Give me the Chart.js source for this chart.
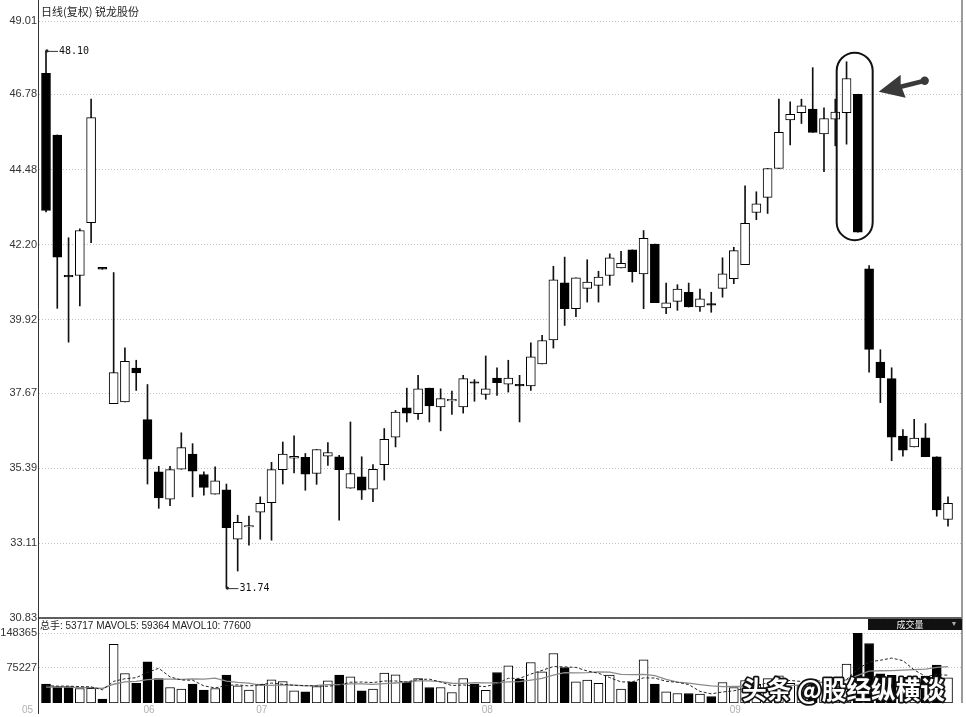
<!DOCTYPE html>
<html><head><meta charset="utf-8">
<script src="https://cdn.jsdelivr.net/npm/chart.js@4.4.1/dist/chart.umd.min.js"></script>
<style>html,body{margin:0;padding:0;background:#fff;}canvas{display:block;}</style>
</head><body>
<canvas id="c" width="966" height="717"></canvas>
<script>
// ---------- data ----------
const titleText = '日线(复权) 锐龙股份';
const volumePanelName = '成交量';
const watermarkText = '头条 @股经纵横谈';
const monthLabels = ['05', '06', '07', '08', '09'];
const monthStart = [0, 9, 19, 39, 61];           // index of first trading day of each month
const priceTicks = [49.01, 46.78, 44.48, 42.20, 39.92, 37.67, 35.39, 33.11, 30.83];
const volumeTicks = [148365, 75227];
const highlightDays = [71, 72];                  // the circled candles

const opens = [47.42,45.54,41.25,41.26,42.87,41.51,37.36,37.41,38.44,36.87,
  35.28,34.45,35.36,35.82,35.20,34.60,34.73,33.23,33.60,34.05,
  34.34,35.35,35.70,35.72,35.23,35.76,35.74,34.78,35.13,34.75,
  35.50,36.34,37.23,37.05,37.83,37.26,37.44,37.26,38.02,37.64,
  38.14,37.95,37.94,37.90,38.57,39.30,41.04,40.25,40.87,40.96,
  41.26,41.49,42.04,41.31,42.22,40.27,40.47,40.75,40.30,40.40,
  40.87,41.16,41.59,43.18,43.64,44.52,46.00,46.22,46.33,45.57,
  46.02,46.22,46.78,41.46,38.62,38.12,36.37,36.04,36.32,35.74,33.83];
const highs = [48.10,45.54,42.41,42.68,46.63,41.51,41.35,39.06,38.68,37.94,
  35.45,35.45,36.47,36.14,35.28,35.43,34.91,33.96,33.93,34.52,
  35.57,36.19,36.38,35.84,35.96,36.17,35.78,36.80,35.74,35.50,
  36.60,37.15,37.83,38.22,37.83,37.81,37.74,38.22,38.09,38.81,
  38.45,38.68,38.22,39.21,39.44,41.54,41.82,41.19,41.74,41.39,
  41.92,42.00,42.04,42.63,42.22,41.03,40.98,41.03,40.85,40.75,
  41.80,42.12,43.99,43.81,44.52,46.63,46.55,46.63,47.59,46.37,
  46.63,47.77,46.78,41.56,39.00,38.45,36.57,36.88,36.75,35.74,34.52];
const lows = [43.20,40.26,39.23,40.33,42.26,41.45,37.36,37.41,37.76,34.91,
  34.17,34.25,35.36,34.52,34.57,34.60,31.74,32.26,33.05,33.23,
  33.20,34.91,35.25,34.72,34.90,35.48,33.81,34.78,34.44,34.37,
  35.03,36.04,36.80,36.88,36.80,36.53,37.03,37.07,37.43,37.49,
  37.61,37.71,36.80,37.76,38.57,39.05,39.74,40.01,40.45,40.45,
  40.96,41.49,41.06,40.25,40.43,40.10,40.20,40.30,40.17,40.14,
  40.60,41.01,41.59,42.96,43.15,44.52,45.24,45.89,45.62,44.42,
  45.21,45.26,42.58,38.32,37.39,35.62,35.76,36.04,35.74,33.93,33.63];
const closes = [43.24,41.82,41.22,42.63,46.07,41.45,38.30,38.65,38.29,35.67,
  34.49,35.35,36.02,35.30,34.81,35.01,33.58,33.74,33.63,34.32,
  35.35,35.82,35.75,35.21,35.96,35.87,35.35,35.23,34.72,35.36,
  36.27,37.10,37.07,37.81,37.29,37.51,37.47,38.12,37.98,37.81,
  38.00,38.14,37.90,38.78,39.28,41.13,40.25,41.19,41.06,41.21,
  41.80,41.63,41.38,42.39,40.43,40.43,40.85,40.30,40.55,40.36,
  41.31,42.02,42.85,43.44,44.52,45.62,46.17,46.43,45.62,46.04,
  46.24,47.26,42.58,39.01,38.15,36.34,35.94,36.31,35.74,34.12,34.32];
const volumes = [40100,35200,35200,30900,31300,8100,125400,62900,42200,87900,
  52300,33100,29500,40100,27300,30900,59300,36600,27300,40100,
  49500,45900,26000,23900,35200,47300,59300,55900,26000,29500,
  63600,60100,45200,52300,33100,33100,22400,52300,40100,27000,
  65000,79300,50900,86400,66500,105600,75700,45200,48700,42200,
  59300,29500,45200,92100,40100,23900,20300,20300,19200,13900,
  43700,33100,48000,40000,52000,58000,42000,38000,50000,44000,
  36000,82800,148365,126900,62000,59000,55000,50000,57000,81000,53717];
const mavol5 = [37000,36000,36000,35000,34500,28100,46200,51700,54000,65300,
  74100,55700,49000,48600,36500,32200,37400,38800,36300,38800,
  42600,39900,37800,37100,36100,35700,38300,44300,44700,43600,
  46900,47000,44900,50100,50900,44800,37200,38600,36200,35000,
  41400,52700,52500,61700,69600,77700,77000,75900,68300,63500,
  54200,45000,45000,53700,53200,46200,44300,39300,24800,19500,
  23500,26000,31600,35700,43400,46200,48000,46000,48000,46400,
  42000,50200,72200,87600,91200,95800,90300,70600,56600,60400,59364];
const mavol10 = [34000,34000,34000,33000,33000,31000,40000,45000,46000,49900,
  51100,50900,50400,51300,50900,53200,46600,43900,42400,37700,
  37400,38700,38300,36700,37500,39100,39100,41000,40900,39900,
  41300,42700,44600,47400,47200,45800,42100,41800,43200,42900,
  43100,45000,45600,49000,52300,59600,64900,64200,65000,66600,
  66000,61000,60400,61000,58400,50200,44700,42200,39200,36400,
  34800,35200,35500,30300,31400,34900,37000,38800,41900,44900,
  44100,49100,59100,67800,68800,68900,70200,71400,72100,75800,77600];

// ---------- derived structures ----------
const days = opens.map((_, i) => i);
const isDown = days.map(i => closes[i] < opens[i]);
const bodyData = days.map(i => ({x: i, y: [opens[i], closes[i]]}));
const wickData = days.map(i => ({x: i, y: [lows[i], highs[i]]}));
const volData = days.map(i => ({x: i, y: volumes[i]}));
const ma5Data = days.map(i => ({x: i, y: mavol5[i]}));
const ma10Data = days.map(i => ({x: i, y: mavol10[i]}));
const fillColors = days.map(i => isDown[i] ? '#000' : '#fff');

const SANS = '"Liberation Sans", "Noto Sans CJK SC", sans-serif';
const CJK = '"Noto Sans CJK SC", sans-serif';

const decor = {
  id: 'decor',
  afterDraw(chart) {
    const ctx = chart.ctx, ca = chart.chartArea;
    const xs = chart.scales.x, ys = chart.scales.y, yv = chart.scales.yv;
    ctx.save();
    // frame
    ctx.strokeStyle = '#2b2b2b'; ctx.lineWidth = 1.5;
    ctx.beginPath(); ctx.moveTo(ca.left, ys.bottom); ctx.lineTo(ca.right, ys.bottom); ctx.stroke();
    ctx.strokeStyle = '#7a7a7a';
    ctx.beginPath(); ctx.moveTo(ca.right, 0); ctx.lineTo(ca.right, yv.bottom); ctx.stroke();
    ctx.strokeStyle = '#333'; ctx.lineWidth = 1;
    ctx.beginPath(); ctx.moveTo(ca.left + 0.5, yv.bottom); ctx.lineTo(ca.left + 0.5, yv.bottom + 11); ctx.stroke();

    // title
    ctx.fillStyle = '#1e1e1e'; ctx.textBaseline = 'middle'; ctx.textAlign = 'left';
    ctx.font = '11px ' + CJK;
    ctx.fillText(titleText, ca.left + 3, 12);

    // volume legend
    ctx.font = '10px ' + SANS;
    const last = volumes.length - 1;
    ctx.fillText('总手: ' + volumes[last] + ' MAVOL5: ' + mavol5[last] + ' MAVOL10: ' + mavol10[last], ca.left + 2, yv.top + 8);

    // panel name box
    ctx.fillStyle = '#111';
    ctx.fillRect(ca.right - 94, yv.top + 1, 94, 11);
    ctx.fillStyle = '#f2f2f2'; ctx.font = '9px ' + CJK; ctx.textAlign = 'center';
    ctx.fillText(volumePanelName, ca.right - 52, yv.top + 6.5);
    ctx.fillStyle = '#aaa'; ctx.font = '7px ' + SANS;
    ctx.fillText('▼', ca.right - 8, yv.top + 6.5);

    // month labels
    ctx.fillStyle = '#b0b0b0'; ctx.font = '10px ' + SANS;
    monthLabels.forEach((lab, k) => {
      if (k === 0) { ctx.textAlign = 'right'; ctx.fillText(lab, ca.left - 5, yv.bottom + 7); }
      else { ctx.textAlign = 'center'; ctx.fillText(lab, xs.getPixelForValue(monthStart[k]) + 1.5, yv.bottom + 7); }
    });

    // max / min markers
    let iMax = 0, iMin = 0;
    days.forEach(i => { if (highs[i] > highs[iMax]) iMax = i; if (lows[i] < lows[iMin]) iMin = i; });
    const marker = (i, v) => {
      const x = xs.getPixelForValue(i), y = ys.getPixelForValue(v);
      ctx.strokeStyle = '#333'; ctx.fillStyle = '#222'; ctx.lineWidth = 1;
      ctx.beginPath(); ctx.arc(x + 1, y, 1.6, 0, Math.PI * 2); ctx.fill();
      ctx.beginPath(); ctx.moveTo(x + 1, y + 0.5); ctx.lineTo(x + 12, y + 0.5); ctx.stroke();
      ctx.fillStyle = '#111'; ctx.textAlign = 'left'; ctx.font = '10px "DejaVu Sans Mono", monospace';
      ctx.fillText(v.toFixed(2), x + 13, y + 0.5);
    };
    marker(iMax, highs[iMax]);
    marker(iMin, lows[iMin]);

    // highlight capsule
    const hx = highlightDays.map(i => xs.getPixelForValue(i));
    const hTop = ys.getPixelForValue(Math.max(...highlightDays.map(i => highs[i]))) - 9;
    const hBot = ys.getPixelForValue(Math.min(...highlightDays.map(i => lows[i]))) + 8;
    const cx = (hx[0] + hx[1]) / 2 + 2.5, hw = 18;
    ctx.strokeStyle = '#111'; ctx.lineWidth = 2;
    ctx.beginPath(); ctx.roundRect(cx - hw, hTop, hw * 2, hBot - hTop, hw); ctx.stroke();

    // arrow
    const tx = cx + hw + 6, ty = hTop + 39;
    ctx.fillStyle = '#3a3a3a'; ctx.strokeStyle = '#3a3a3a';
    ctx.beginPath();
    ctx.moveTo(tx, ty); ctx.lineTo(tx + 22, ty - 17); ctx.lineTo(tx + 22, ty - 7);
    ctx.lineTo(tx + 27, ty + 6); ctx.closePath(); ctx.fill();
    ctx.lineWidth = 4.5; ctx.lineCap = 'round';
    ctx.beginPath(); ctx.moveTo(tx + 18, ty - 4); ctx.lineTo(tx + 44, ty - 10.5); ctx.stroke();
    ctx.beginPath(); ctx.arc(tx + 46, ty - 11, 4.2, 0, Math.PI * 2); ctx.fill();

    // watermark
    ctx.font = 'bold 25px ' + CJK; ctx.textAlign = 'left'; ctx.textBaseline = 'alphabetic';
    const w = ctx.measureText(watermarkText).width;
    ctx.translate(742, yv.bottom - 4);
    ctx.scale(203 / w, 1);
    ctx.lineJoin = 'round'; ctx.lineWidth = 3.5; ctx.strokeStyle = '#111';
    ctx.strokeText(watermarkText, 0, 0);
    ctx.fillStyle = '#fff'; ctx.fillText(watermarkText, 0, 0);
    ctx.restore();
  }
};

const gridOpts = {color: '#c2c2c2', lineWidth: 1, drawTicks: false};
const tickFont = {family: 'Liberation Sans', size: 11};
const fitLeft = ax => { ax.width = 38; ax.paddingTop = 0; ax.paddingBottom = 0; };

new Chart(document.getElementById('c'), {
  type: 'bar',
  data: {
    datasets: [
      {type: 'line', data: ma5Data, yAxisID: 'yv', borderColor: '#262626', borderWidth: 1, borderDash: [3, 2], pointRadius: 0, order: 0},
      {type: 'line', data: ma10Data, yAxisID: 'yv', borderColor: '#8c8c8c', borderWidth: 1.3, pointRadius: 0, order: 1},
      {type: 'bar', data: volData, yAxisID: 'yv', backgroundColor: fillColors, borderColor: '#000', borderWidth: 1,
        borderSkipped: false, grouped: false, barPercentage: 1, categoryPercentage: 1, maxBarThickness: 9, order: 3},
      {type: 'bar', data: bodyData, yAxisID: 'y', backgroundColor: fillColors, borderColor: '#000', borderWidth: 1,
        borderSkipped: false, grouped: false, barPercentage: 1, categoryPercentage: 1, maxBarThickness: 9, minBarLength: 1.5, order: 2},
      {type: 'bar', data: wickData, yAxisID: 'y', backgroundColor: '#111', borderWidth: 0,
        grouped: false, barPercentage: 1, categoryPercentage: 1, maxBarThickness: 1, order: 4}
    ]
  },
  options: {
    responsive: false, animation: false, devicePixelRatio: 1, events: [],
    layout: {padding: {left: 0, right: 4, top: 0, bottom: 14}},
    plugins: {legend: {display: false}, tooltip: {enabled: false}},
    scales: {
      x: {type: 'linear', offset: false, min: -0.71, max: 81.24, display: false,
        afterBuildTicks: ax => { ax.ticks = monthStart.map(v => ({value: v})); }},
      yv: {type: 'linear', position: 'left', stack: 'panels', stackWeight: 85, min: 0, max: 181300,
        afterBuildTicks: ax => { ax.ticks = volumeTicks.map(v => ({value: v})); },
        afterFit: fitLeft,
        ticks: {autoSkip: false, padding: 1, color: '#333', font: tickFont, callback: v => String(v)},
        grid: gridOpts, border: {color: '#333', width: 1, dash: [1, 2]}},
      y: {type: 'linear', position: 'left', stack: 'panels', stackWeight: 618, min: 30.83, max: 49.65,
        afterBuildTicks: ax => { ax.ticks = priceTicks.map(v => ({value: v})); },
        afterFit: fitLeft,
        ticks: {autoSkip: false, padding: 1, color: '#333', font: tickFont, callback: v => v.toFixed(2)},
        grid: gridOpts, border: {color: '#333', width: 1, dash: [1, 2]}}
    }
  },
  plugins: [decor]
});
</script>
</body></html>
